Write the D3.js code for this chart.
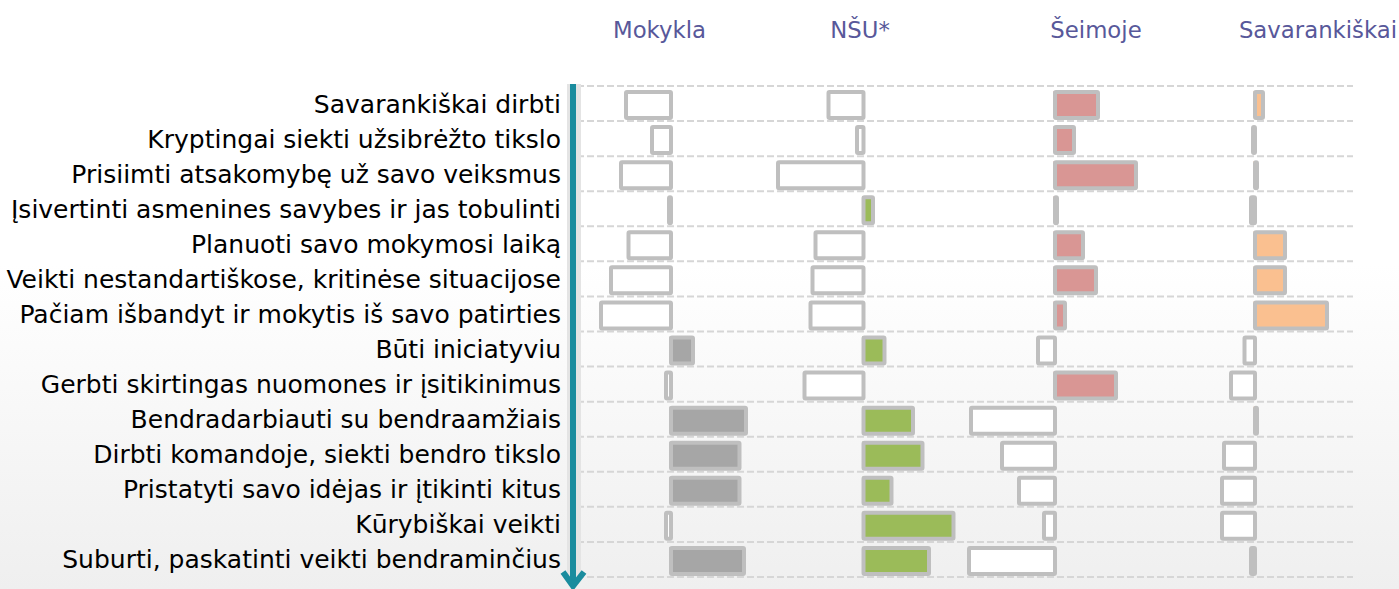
<!DOCTYPE html>
<html>
<head>
<meta charset="utf-8">
<script src="https://cdn.jsdelivr.net/npm/d3@7"></script>
<style>
  html, body { margin: 0; padding: 0; }
  body { width: 1399px; height: 589px; overflow: hidden; }
  text { font-family: "DejaVu Sans", sans-serif; }
</style>
</head>
<body>
<div id="chart"></div>
<script>
// row labels (top to bottom)
var categories = [
  "Savarankiškai dirbti",
  "Kryptingai siekti užsibrėžto tikslo",
  "Prisiimti atsakomybę už savo veiksmus",
  "Įsivertinti asmenines savybes ir jas tobulinti",
  "Planuoti savo mokymosi laiką",
  "Veikti nestandartiškose, kritinėse situacijose",
  "Pačiam išbandyt ir mokytis iš savo patirties",
  "Būti iniciatyviu",
  "Gerbti skirtingas nuomones ir įsitikinimus",
  "Bendradarbiauti su bendraamžiais",
  "Dirbti komandoje, siekti bendro tikslo",
  "Pristatyti savo idėjas ir įtikinti kitus",
  "Kūrybiškai veikti",
  "Suburti, paskatinti veikti bendraminčius"
];

var groups = ["Mokykla", "NŠU*", "Šeimoje", "Savarankiškai"];

var mokykla       = [-18, -7.6, -20, -0.8, -17, -24, -28, 8.8, -2, 30, 27.4, 27.4, -2, 29.2];
var nsu           = [-14, -2.6, -34.2, 3.8, -19.2, -20.4, -21.2, 8.4, -23.6, 19.8, 23.6, 11.2, 36, 26.2];
var seimoje       = [17.2, 7.6, 32.4, 0.8, 11.2, 16.4, 4, -6.8, 24.4, -33.6, -21.2, -14.4, -4.4, -34.4];
var savarankiskai = [3.2, -0.8, 0.8, -1.6, 12, 12, 28.8, -4.2, -9.6, 0.8, -12.4, -13.2, -13.2, -1.6];

var series = [mokykla, nsu, seimoje, savarankiskai];
var colors = ["#a6a6a6", "#9bbb59", "#d99694", "#fac090"];

// layout
var W = 1399, H = 589;
var zeroX = [671, 863.5, 1055, 1255];      // zero line of each panel
var headX = [659.5, 860, 1096, 1318];      // header centres

var svg = d3.select("#chart").append("svg")
  .attr("width", W).attr("height", H);

var defs = svg.append("defs");
var grad = defs.append("linearGradient").attr("id", "bg")
  .attr("x1", 0).attr("y1", 0).attr("x2", 0).attr("y2", 1);
grad.append("stop").attr("offset", "0.45").attr("stop-color", "#ffffff");
grad.append("stop").attr("offset", "1").attr("stop-color", "#efefef");

svg.append("rect").attr("width", W).attr("height", H).attr("fill", "url(#bg)");

var y = d3.scaleBand().domain(categories).range([86, 577]).padding(0);
var x = d3.scaleLinear().domain([-40, 40]).range([-100, 100]);

// dashed grid lines at row boundaries
var bounds = categories.map(function (c) { return y(c); }).concat([y.range()[1]]);
svg.append("g").selectAll("line")
  .data(bounds).enter()
  .append("line")
  .attr("x1", 577).attr("x2", 1353)
  .attr("y1", function (d) { return d; })
  .attr("y2", function (d) { return d; })
  .attr("stroke", "#d6d6d6")
  .attr("stroke-width", 2)
  .attr("stroke-dasharray", "7,3");

// row labels
svg.append("g").selectAll("text")
  .data(categories).enter()
  .append("text")
  .attr("x", 561)
  .attr("y", function (d) { return y(d) + y.bandwidth() / 2 + 9; })
  .attr("text-anchor", "end")
  .attr("font-size", "25px")
  .attr("fill", "#000")
  .text(function (d) { return d; });

// headers
svg.append("g").selectAll("text")
  .data(groups).enter()
  .append("text")
  .attr("x", function (d, i) { return headX[i]; })
  .attr("y", 38)
  .attr("text-anchor", "middle")
  .attr("font-size", "22.8px")
  .attr("fill", "#58589a")
  .text(function (d) { return d; });

// bars
var barH = 26, barOff = 6;
series.forEach(function (vals, gi) {
  var g = svg.append("g").attr("transform", "translate(" + zeroX[gi] + ",0)");
  var rows = vals.map(function (v, i) { return { cat: categories[i], value: v }; });

  // fill (slightly left/up of the outline, like the original)
  g.selectAll("rect.fill").data(rows).enter()
    .append("rect").attr("class", "fill")
    .attr("x", function (d) { return Math.min(x(0), x(d.value)) - 1.5; })
    .attr("y", function (d) { return y(d.cat) + barOff - 1; })
    .attr("width", function (d) { return Math.abs(x(d.value) - x(0)); })
    .attr("height", barH)
    .attr("fill", function (d) { return d.value > 0 ? colors[gi] : "#ffffff"; });

  g.selectAll("rect.outline").data(rows).enter()
    .append("rect").attr("class", "outline")
    .attr("x", function (d) { return Math.min(x(0), x(d.value)); })
    .attr("y", function (d) { return y(d.cat) + barOff; })
    .attr("width", function (d) { return Math.abs(x(d.value) - x(0)); })
    .attr("height", barH)
    .attr("rx", 1)
    .attr("fill", "none")
    .attr("stroke", "#bfbfbf")
    .attr("stroke-width", 4);
});

// vertical axis with arrow (soft shadow first)
svg.append("line")
  .attr("x1", 574).attr("x2", 574).attr("y1", 84).attr("y2", 580)
  .attr("stroke", "#e4e4e4").attr("stroke-width", 14);
svg.append("line")
  .attr("x1", 573).attr("x2", 573).attr("y1", 84).attr("y2", 586)
  .attr("stroke", "#1a8c9e").attr("stroke-width", 6);
svg.append("path")
  .attr("d", "M563,572 L573,586 L584,572")
  .attr("fill", "none")
  .attr("stroke", "#1a8c9e").attr("stroke-width", 6)
  .attr("stroke-linejoin", "miter");
</script>
</body>
</html>
